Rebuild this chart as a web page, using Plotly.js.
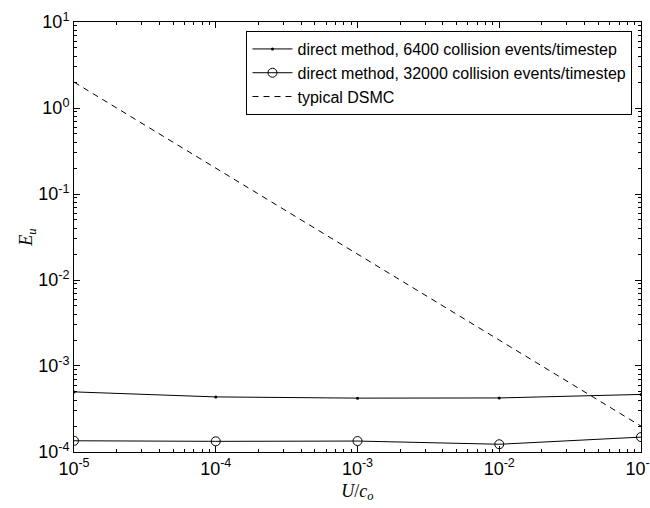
<!DOCTYPE html>
<html><head><meta charset="utf-8">
<script src="https://cdn.plot.ly/plotly-3.0.1.min.js"></script>
<style>html,body{margin:0;padding:0;background:#fff}</style>
</head><body>
<div id="chart" style="width:650px;height:508px"></div>
<script>
const xVals = [1e-5, 1e-4, 1e-3, 1e-2, 1e-1];
const direct6400 = [5.0e-4, 4.37e-4, 4.23e-4, 4.25e-4, 4.67e-4];
const direct32000 = [1.35e-4, 1.33e-4, 1.34e-4, 1.23e-4, 1.49e-4];
const dsmc = [2, 0.2, 0.02, 0.002, 0.0002];
const seriesNames = ['direct method, 6400 collision events/timestep',
  'direct method, 32000 collision events/timestep', 'typical DSMC'];
const xTickVals = [1e-5, 1e-4, 1e-3, 1e-2, 1e-1];
const xTickText = ['10<sup>-5</sup>', '10<sup>-4</sup>', '10<sup>-3</sup>', '10<sup>-2</sup>', '10<sup>-1</sup>'];
const yTickVals = [1e-4, 1e-3, 1e-2, 1e-1, 1, 10];
const yTickText = ['10<sup>-4</sup>', '10<sup>-3</sup>', '10<sup>-2</sup>', '10<sup>-1</sup>', '10<sup>0</sup>', '10<sup>1</sup>'];

function minorVals(lo, hi) {
  const out = [];
  for (let e = lo; e < hi; e++) for (let m = 2; m <= 9; m++) out.push(m * Math.pow(10, e));
  return out;
}
const xRange = [-5.0001, -0.9999];
const yRange = [-4.0001, 1.0001];

const traces = [
  {x: xVals, y: direct6400, name: seriesNames[0], mode: 'lines+markers',
   line: {color: '#000', width: 1}, marker: {symbol: 'circle', size: 3, color: '#000'}},
  {x: xVals, y: direct32000, name: seriesNames[1], mode: 'lines+markers',
   line: {color: '#000', width: 1}, marker: {symbol: 'circle-open', size: 9, color: '#000', line: {width: 1}}},
  {x: xVals, y: dsmc, name: seriesNames[2], mode: 'lines',
   line: {color: '#000', width: 1, dash: '6px,5px'}},
  {x: [], y: [], xaxis: 'x2', yaxis: 'y2', mode: 'lines', showlegend: false, hoverinfo: 'skip'}
];
const axisCommon = {
  type: 'log', showgrid: false, zeroline: false, showline: true, linecolor: '#000', linewidth: 1,
  mirror: 'ticks', ticks: 'inside', ticklen: 6, tickwidth: 1, tickcolor: '#000', ticklabeloverflow: 'allow',
  tickmode: 'array',
  tickfont: {family: 'Liberation Sans, Arial, sans-serif', size: 18, color: '#000'}
};
const minorCommon = {
  type: 'log', showgrid: false, zeroline: false, showline: false, showticklabels: false,
  mirror: 'ticks', ticks: 'inside', ticklen: 3, tickcolor: '#000', tickmode: 'array'
};
const layout = {
  width: 650, height: 508,
  margin: {l: 74, r: 9, t: 22, b: 56},
  paper_bgcolor: '#fff', plot_bgcolor: '#fff',
  showlegend: true,
  xaxis: Object.assign({}, axisCommon, {
    range: xRange, tickvals: xTickVals, ticktext: xTickText,
    title: {text: '<i>U</i>/<i>c<sub>o</sub></i>', standoff: 6,
      font: {family: 'Liberation Serif, serif', size: 18, color: '#000'}}
  }),
  yaxis: Object.assign({}, axisCommon, {
    range: yRange, tickvals: yTickVals, ticktext: yTickText,
    title: {text: '<i>E<sub>u</sub></i>', standoff: 0,
      font: {family: 'Liberation Serif, serif', size: 18, color: '#000'}}
  }),
  xaxis2: Object.assign({}, minorCommon, {overlaying: 'x', anchor: 'y2', side: 'bottom', range: xRange, tickvals: minorVals(-5, -1)}),
  yaxis2: Object.assign({}, minorCommon, {overlaying: 'y', anchor: 'x2', side: 'left', range: yRange, tickvals: minorVals(-4, 1)}),
  legend: {
    x: 0.985, y: 0.979, xanchor: 'right', yanchor: 'top',
    bgcolor: '#fff', bordercolor: '#000', borderwidth: 1,
    font: {family: 'Liberation Sans, Arial, sans-serif', size: 16, color: '#000'},
    tracegroupgap: 0, itemwidth: 40
  }
};
Plotly.newPlot('chart', traces, layout, {displayModeBar: false, staticPlot: true});
</script>
</body></html>
